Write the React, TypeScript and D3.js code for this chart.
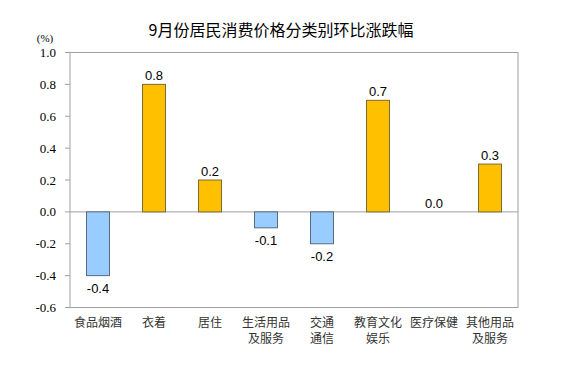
import React from "react";
import * as d3 from "d3";

const categories = [
  ["食品烟酒"],
  ["衣着"],
  ["居住"],
  ["生活用品", "及服务"],
  ["交通", "通信"],
  ["教育文化", "娱乐"],
  ["医疗保健"],
  ["其他用品", "及服务"],
];
const values = [-0.4, 0.8, 0.2, -0.1, -0.2, 0.7, 0.0, 0.3];
const yTicks = [1.0, 0.8, 0.6, 0.4, 0.2, 0.0, -0.2, -0.4, -0.6];
const title = "9月份居民消费价格分类别环比涨跌幅";

export default function App() {
  const W = 564, H = 377;
  const left = 70, right = 518, top = 52.5, bottom = 307.5;
  const x = d3
    .scaleBand<number>()
    .domain(values.map((_, i) => i))
    .range([left, right])
    .paddingInner(0.59)
    .paddingOuter(0.295);
  const y = d3.scaleLinear().domain([-0.6, 1.0]).range([bottom, top]);
  const cjk = "'Noto Sans CJK SC', sans-serif";
  return (
    <svg width={W} height={H} style={{ position: "absolute", left: 0, top: 0 }}>
      <rect x={0} y={0} width={W} height={H} fill="#fff" />
      <text x={281} y={36} textAnchor="middle" fontFamily={cjk} fontSize={16} fill="#000">
        {title}
      </text>
      <text x={45} y={42} textAnchor="middle" fontFamily="'Liberation Serif', serif" fontSize={11} fill="#000">
        (%)
      </text>
      <rect x={left} y={top} width={right - left} height={bottom - top} fill="none" stroke="#a0a0a0" strokeWidth={1} />
      {yTicks.map((t) => (
        <g key={t}>
          <line x1={left - 5} x2={left} y1={y(t)} y2={y(t)} stroke="#a0a0a0" />
          <text
            x={56}
            y={y(t) + 4.5}
            textAnchor="end"
            fontFamily="'Liberation Serif', serif"
            fontSize={13}
            fill="#000"
          >
            {t.toFixed(1)}
          </text>
        </g>
      ))}
      <line x1={left} x2={right} y1={y(0)} y2={y(0)} stroke="#a0a0a0" />
      {values.map((v, i) => {
        const bx = x(i)!;
        const bw = x.bandwidth();
        const y0 = y(Math.max(0, v));
        const h = Math.abs(y(v) - y(0));
        const pos = v >= 0;
        return (
          <g key={i}>
            {h > 0 && (
              <rect
                x={bx}
                y={y0}
                width={bw}
                height={h}
                fill={pos ? "#FFC000" : "#99CCFF"}
                stroke={pos ? "#7a6a3a" : "#5a6a80"}
                strokeWidth={1}
              />
            )}
            <text
              x={bx + bw / 2}
              y={pos ? y(v) - 4 : y(v) + 17}
              textAnchor="middle"
              fontFamily="'Liberation Sans', Arial, sans-serif"
              fontSize={13}
              fill="#000"
            >
              {v.toFixed(1)}
            </text>
            {categories[i].map((line, j) => (
              <text
                key={j}
                x={bx + bw / 2}
                y={327 + j * 15.5}
                textAnchor="middle"
                fontFamily={cjk}
                fontSize={12}
                fill="#333"
              >
                {line}
              </text>
            ))}
          </g>
        );
      })}
    </svg>
  );
}
